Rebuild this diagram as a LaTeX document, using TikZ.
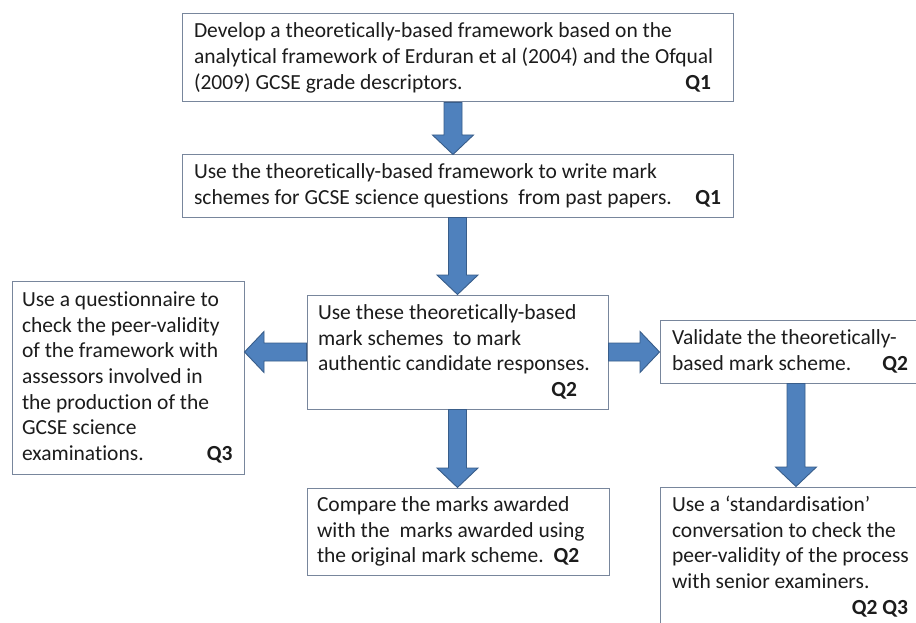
\documentclass[tikz,border=0pt]{standalone}
\usepackage{fontspec}
\setmainfont{Carlito}[Ligatures=NoCommon]
\usetikzlibrary{calc}

\definecolor{boxline}{RGB}{120,134,156}
\definecolor{arrowfill}{RGB}{79,129,189}
\definecolor{arrowline}{RGB}{56,93,138}
\definecolor{ink}{RGB}{28,28,28}

% box text: 21.5pt type on a 25.7pt line
\newcommand\stepfont{\fontsize{21.5}{25.7}\selectfont}
% the font's own word space instead of the wider one set by align=left
\newcommand\wordspacing{\spaceskip=4.9pt\xspaceskip=4.9pt\relax}

\tikzset{
  stepbox/.style={draw=boxline, line width=1pt, fill=white, text=ink,
    align=left, inner xsep=10pt, inner ysep=0pt, font=\stepfont,
    execute at begin node=\wordspacing},
  % block arrow: shaft 18pt wide, head 41pt wide and 19.5pt long
  fat/.style={fill=arrowfill, draw=arrowline, line width=0.9pt, line join=miter,
    to path={let \p1=(\tikztostart), \p2=(\tikztotarget),
      \n1={veclen(\x2-\x1,\y2-\y1)-19.5pt},
      \p3=($(\p1)!{\n1*1pt}!(\p2)$) in
      ($(\p1)!9pt!90:(\p2)$) -- ($(\p3)!9pt!90:(\p2)$) -- ($(\p3)!20.5pt!90:(\p2)$)
      -- (\p2) -- ($(\p3)!20.5pt!-90:(\p2)$) -- ($(\p3)!9pt!-90:(\p2)$)
      -- ($(\p1)!9pt!-90:(\p2)$) -- cycle}}
}

\begin{document}
\begin{tikzpicture}[x=1pt, y=-1pt]
\useasboundingbox (0,0) rectangle (916,623);
\fill[white] (0,0) rectangle (916,623);

% process steps
\node[stepbox, text width=527pt, inner xsep=12pt, minimum height=88pt] (b1) at (457.5,58)
  {Develop a theoretically-based framework based on the\\
   \mbox{analytical framework of Erduran et al (2004) and the Ofqual}\\
   (2009) GCSE grade descriptors.\hfill\textbf{Q1}\hspace*{10pt}};

\node[stepbox, text width=527pt, inner xsep=12pt, minimum height=62pt] (b2) at (457.5,186)
  {Use the theoretically-based framework to write mark\\
   schemes for GCSE science questions\ \ from past papers.\hfill\textbf{Q1}};

\node[stepbox, text width=279pt, inner xsep=11pt, minimum height=114pt] (b3) at (457.5,352)
  {Use these theoretically-based\\
   mark schemes\ \ to mark\\
   \mbox{authentic candidate responses.}\\
   \hspace*{\fill}\textbf{Q2}\hspace*{20pt}};

\node[stepbox, text width=212pt, minimum height=193pt] (bL) at (128,377.5)
  {Use a questionnaire to\\
   check the peer-validity\\
   of the framework with\\
   assessors involved in\\
   the production of the\\
   GCSE science\\
   examinations.\hfill\textbf{Q3}\hspace*{1.5pt}};

\node[stepbox, text width=244pt, inner xsep=12pt, minimum height=63pt] (bV) at (794,351.5)
  {\mbox{Validate the theoretically-}\\
   based mark scheme.\hfill\textbf{Q2}\hspace*{8pt}};

\node[stepbox, text width=282pt, minimum height=87pt] (b4) at (458,531.5)
  {Compare the marks awarded\\
   with the\ \ marks awarded using\\
   the original mark scheme.\ \ \textbf{Q2}};

\node[stepbox, text width=244pt, inner xsep=12pt, minimum height=139pt] (bR) at (794,556.5)
  {Use a ‘standardisation’\\
   conversation to check the\\
   \mbox{peer-validity of the process}\\
   with senior examiners.\\
   \hspace*{\fill}\textbf{Q2 Q3}\hspace*{8pt}};

% connectors
\draw[fat] ([xshift=-4.5pt]b1.south) to ([xshift=-4.5pt]b2.north);
\draw[fat] (b2.south) to (b2.south |- b3.north);
\draw[fat] (b3.west) to (b3.west -| bL.east);
\draw[fat] (b3.east) to (b3.east -| bV.west);
\draw[fat] (b3.south) to (b3.south |- b4.north);
\draw[fat] ([xshift=2pt]bV.south) to ([xshift=2pt]bV.south |- bR.north);
\end{tikzpicture}
\end{document}
